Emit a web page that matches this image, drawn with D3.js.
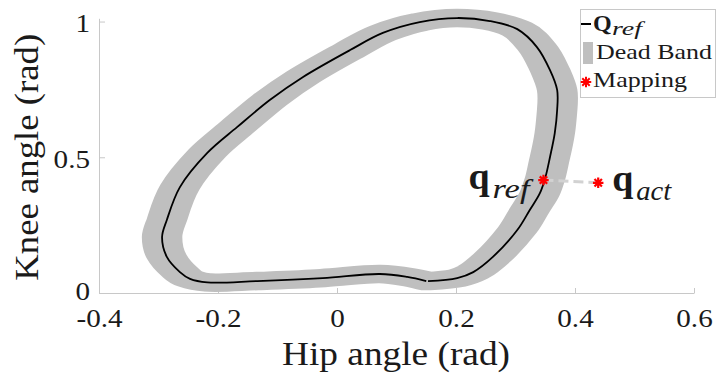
<!DOCTYPE html>
<html>
<head>
<meta charset="utf-8">
<script src="https://cdn.jsdelivr.net/npm/d3@7"></script>
<style>
  html, body { margin: 0; padding: 0; background: #fff; }
  svg { display: block; }
  text { font-family: "Liberation Serif", "Times New Roman", "DejaVu Serif", serif; fill: #1a1a1a; }
  .it { font-family: "Liberation Serif", "DejaVu Serif", serif; font-style: italic; }
</style>
</head>
<body>
<svg id="chart" width="718" height="379"></svg>
<script>
// Reference trajectory Q_ref over one gait cycle (hip, knee in rad)
const hipRef = [0.153, 0.202, 0.229, 0.262, 0.303, 0.324, 0.341, 0.350, 0.358, 0.366, 0.370, 0.370,
                0.358, 0.336, 0.303, 0.257, 0.202, 0.139, 0.077, 0.022, -0.057, -0.113, -0.168, -0.218,
                -0.264, -0.286, -0.294, -0.286, -0.264, -0.247, -0.218, -0.134, -0.024, 0.072, 0.118, 0.150];
const kneeRef = [0.044, 0.055, 0.077, 0.133, 0.232, 0.306, 0.368, 0.424, 0.501, 0.589, 0.674, 0.748,
                 0.821, 0.906, 0.972, 1.002, 1.013, 0.998, 0.958, 0.895, 0.796, 0.711, 0.611, 0.516,
                 0.390, 0.269, 0.206, 0.133, 0.077, 0.052, 0.039, 0.044, 0.055, 0.070, 0.059, 0.044];
// Half-width of the dead band around Q_ref (rad, in both joints)
const deadBand = 0.034;
// Actual state and its mapping onto the reference
const qRef = [0.347, 0.416];
const qAct = [0.439, 0.406];
// Axis ticks
const xTicks = [-0.4, -0.2, 0, 0.2, 0.4, 0.6];
const xTickLabels = ["-0.4", "-0.2", "0", "0.2", "0.4", "0.6"];
const yTicks = [0, 0.5, 1];
const yTickLabels = ["0", "0.5", "1"];

const svg = d3.select("#chart");
const x = d3.scaleLinear().domain([-0.4, 0.6]).range([99, 694]);
const y = d3.scaleLinear().domain([0, 1.012]).range([293, 18.3]);

const axisColor = "#c8c8c8";
const bandColor = "#bfbfbf";

// widen a text element horizontally by a factor
function stretch(sel, k) {
  sel.each(function () {
    const w = this.getComputedTextLength();
    d3.select(this).attr("textLength", w * k).attr("lengthAdjust", "spacingAndGlyphs");
  });
}

// Axes (ticks pointing inward, no box)
const xAxis = d3.axisBottom(x).tickValues(xTicks).tickSizeInner(-5).tickSizeOuter(0)
  .tickFormat((d, i) => xTickLabels[i]);
const yAxis = d3.axisLeft(y).tickValues(yTicks).tickSizeInner(-6).tickSizeOuter(0)
  .tickFormat((d, i) => yTickLabels[i]);

const gx = svg.append("g").attr("transform", `translate(0,${y(0)})`).call(xAxis);
const gy = svg.append("g").attr("transform", `translate(${x(-0.4)},0)`).call(yAxis);
[gx, gy].forEach(g => {
  g.attr("font-family", null).attr("font-size", null);
  g.select(".domain").attr("stroke", axisColor).attr("stroke-width", 1);
  g.selectAll(".tick line").attr("stroke", axisColor).attr("stroke-width", 1);
  g.selectAll(".tick text").attr("fill", "#1a1a1a").style("font-size", "26px");
});
gx.selectAll(".tick text").attr("y", 34).attr("dy", 0);
gy.selectAll(".tick text").attr("x", -9).attr("dy", "0.36em")
  .attr("y", d => d === 0 ? -3 : 1);
stretch(gx.selectAll(".tick text"), 1.12);
stretch(gy.selectAll(".tick text"), 1.12);

// Dead band: the reference swept by a circle of radius deadBand in joint space
const pts = hipRef.map((h, i) => [h, kneeRef[i]]);
svg.append("g")
  .attr("transform", `translate(${x(0)},${y(0)}) scale(${x(1) - x(0)},${y(1) - y(0)})`)
  .append("path")
  .attr("d", d3.line().curve(d3.curveCatmullRom)(pts))
  .attr("fill", "none")
  .attr("stroke", bandColor)
  .attr("stroke-width", 2 * deadBand)
  .attr("stroke-linejoin", "round")
  .attr("stroke-linecap", "round");

// Reference trajectory
svg.append("path")
  .attr("d", d3.line().x(d => x(d[0])).y(d => y(d[1])).curve(d3.curveCatmullRom)(pts))
  .attr("fill", "none")
  .attr("stroke", "#000")
  .attr("stroke-width", 1.8);

// Mapping segment q_act -> q_ref
svg.append("line")
  .attr("x1", x(qRef[0])).attr("y1", y(qRef[1]))
  .attr("x2", x(qAct[0])).attr("y2", y(qAct[1]))
  .attr("stroke", "#d2d2d2").attr("stroke-width", 3)
  .attr("stroke-dasharray", "10,5");

// Eight-armed asterisk marker
const asterisk = {
  draw(ctx, size) {
    const r = Math.sqrt(size) / 2;
    const s = r * Math.SQRT1_2;
    ctx.moveTo(-r, 0); ctx.lineTo(r, 0);
    ctx.moveTo(0, -r); ctx.lineTo(0, r);
    ctx.moveTo(-s, -s); ctx.lineTo(s, s);
    ctx.moveTo(-s, s); ctx.lineTo(s, -s);
  }
};
svg.selectAll("path.star").data([qRef, qAct]).join("path")
  .attr("class", "star")
  .attr("transform", d => `translate(${x(d[0])},${y(d[1])})`)
  .attr("d", d3.symbol().type(asterisk).size(110)())
  .attr("fill", "none").attr("stroke", "#ff0000").attr("stroke-width", 2.2);

// Point labels
function qLabel(px, py, sub, subLen) {
  const t = svg.append("g").attr("transform", `translate(${px},${py})`);
  t.append("text").text("q").attr("x", 0).attr("y", 0)
    .style("font-weight", "bold").style("font-size", "38px");
  t.append("text").attr("class", "it").text(sub).attr("x", 24).attr("y", 9)
    .style("font-size", "27px")
    .attr("textLength", subLen).attr("lengthAdjust", "spacingAndGlyphs");
}
qLabel(x(qRef[0]) - 75, y(qRef[1]) + 9, "ref", 37);
qLabel(x(qAct[0]) + 14, y(qAct[1]) + 8, "act", 35);

// Axis titles
svg.append("text").text("Hip angle (rad)")
  .attr("x", (x(-0.4) + x(0.6)) / 2 - 0.5).attr("y", 365)
  .attr("text-anchor", "middle").style("font-size", "33px")
  .attr("textLength", 228).attr("lengthAdjust", "spacingAndGlyphs");
svg.append("text").text("Knee angle (rad)")
  .attr("transform", `translate(38,${(y(0) + y(1)) / 2})rotate(-90)`)
  .attr("text-anchor", "middle").style("font-size", "33px")
  .attr("textLength", 247).attr("lengthAdjust", "spacingAndGlyphs");

// Legend
const lg = svg.append("g");
lg.append("rect").attr("x", 580.5).attr("y", 9.5).attr("width", 135).attr("height", 88)
  .attr("fill", "#fff").attr("stroke", axisColor);
lg.append("line").attr("x1", 581).attr("x2", 591).attr("y1", 24).attr("y2", 24)
  .attr("stroke", "#000").attr("stroke-width", 2);
lg.append("text").text("Q").attr("x", 593).attr("y", 31)
  .style("font-weight", "bold").style("font-size", "24px");
lg.append("text").attr("class", "it").text("ref").attr("x", 612).attr("y", 35)
  .style("font-size", "19px")
  .attr("textLength", 30).attr("lengthAdjust", "spacingAndGlyphs");
lg.append("rect").attr("x", 583).attr("y", 42).attr("width", 10).attr("height", 22)
  .attr("fill", bandColor);
lg.append("text").text("Dead Band").attr("x", 596).attr("y", 59)
  .style("font-size", "21.5px")
  .attr("textLength", 116).attr("lengthAdjust", "spacingAndGlyphs");
lg.append("path").attr("transform", "translate(586,82)")
  .attr("d", d3.symbol().type(asterisk).size(110)())
  .attr("fill", "none").attr("stroke", "#ff0000").attr("stroke-width", 2);
lg.append("text").text("Mapping").attr("x", 593).attr("y", 87)
  .style("font-size", "21.5px")
  .attr("textLength", 94).attr("lengthAdjust", "spacingAndGlyphs");
</script>
</body>
</html>
